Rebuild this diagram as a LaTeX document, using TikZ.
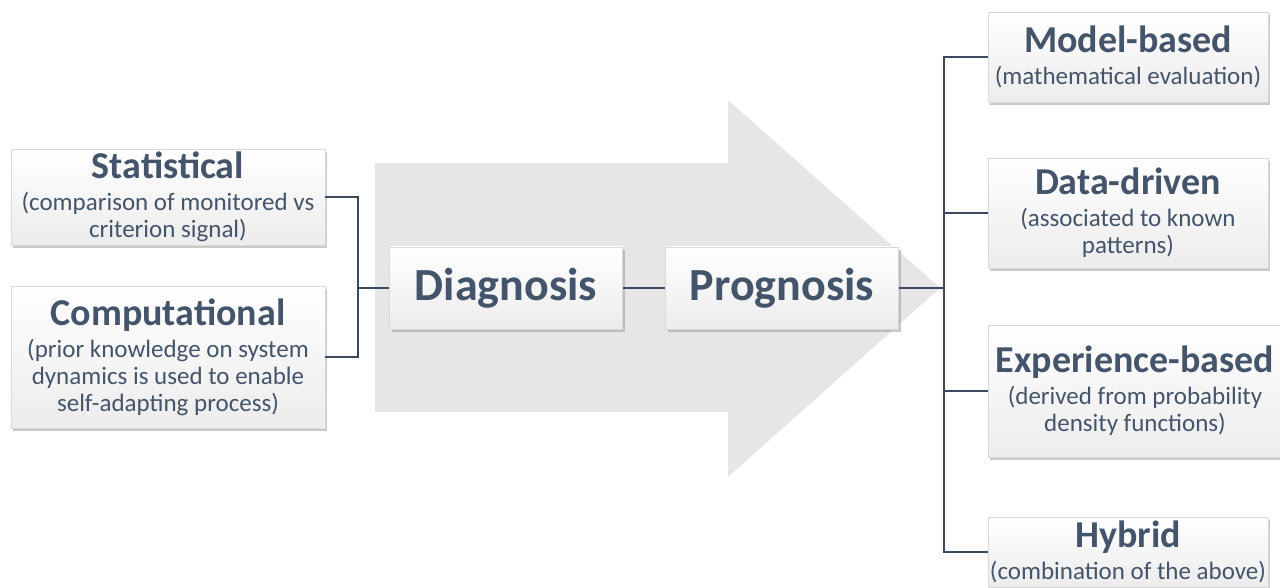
\documentclass[tikz,border=0pt]{standalone}
\usepackage{fontspec}
\setmainfont{Carlito}
\usetikzlibrary{shadows}
\definecolor{txt}{HTML}{44546A}
\definecolor{lin}{HTML}{3B4A5E}
\definecolor{arr}{HTML}{E6E6E6}
\newcommand{\ttl}{\fontsize{38}{41}\selectfont\bfseries}
\newcommand{\sbt}{\fontsize{25}{27}\selectfont}
\begin{document}
\begin{tikzpicture}[x=1pt,y=-1pt,
  box/.style={draw=gray!30, line width=0.6pt, top color=white, bottom color=gray!15,
    drop shadow={shadow xshift=2pt, shadow yshift=-3pt, opacity=0.5, fill=gray!85},
    text=txt, align=center, inner sep=0pt, font=\sbt},
  mainbox/.style={box, font=\fontsize{46}{50}\selectfont\bfseries},
  conn/.style={draw=lin, line width=1.3pt}]
\useasboundingbox (0,0) rectangle (1280,588);
\clip (0,0) rectangle (1280,588);
% big arrow
\fill[arr] (375,163) -- (728,163) -- (728,100) -- (940,288) -- (728,477) -- (728,412) -- (375,412) -- cycle;
% left boxes
\node[box, minimum width=314, minimum height=96] (stat) at (168,197)
  {{\ttl Statistical}\\[5pt](comparison of monitored vs\\criterion signal)};
\node[box, minimum width=314, minimum height=142] (comp) at (168,357)
  {{\ttl Computational}\\[5pt](prior knowledge on system\\dynamics is used to enable\\self-adapting process)};
% middle
\node[mainbox, minimum width=233, minimum height=82] (diag) at (506,288) {Diagnosis};
\node[mainbox, minimum width=233, minimum height=82] (prog) at (782,288) {Prognosis};
% right boxes
\node[box, minimum width=280, minimum height=90] (model) at (1128,57)
  {{\ttl Model-based}\\[5pt](mathematical evaluation)};
\node[box, minimum width=280, minimum height=110] (data) at (1128,213)
  {{\ttl Data-driven}\\[5pt](associated to known\\patterns)};
\node[box, minimum width=294, minimum height=132] (exp) at (1135,391)
  {{\ttl Experience-based}\\[5pt](derived from probability\\density functions)};
\node[box, minimum width=280, minimum height=70] (hyb) at (1128,552)
  {{\ttl Hybrid}\\[5pt](combination of the above)};
% connectors
\coordinate (j1) at (358,288);
\coordinate (j2) at (944,288);
\draw[conn] (stat.east) -| (j1) |- (comp.east);
\draw[conn] (j1) -- (diag.west);
\draw[conn] (diag.east) -- (prog.west);
\draw[conn] (prog.east) -- (j2);
\draw[conn] (model.west) -| (j2);
\draw[conn] (data.west) -| (j2);
\draw[conn] (exp.west) -| (j2);
\draw[conn] (hyb.west) -| (j2);
\end{tikzpicture}
\end{document}
